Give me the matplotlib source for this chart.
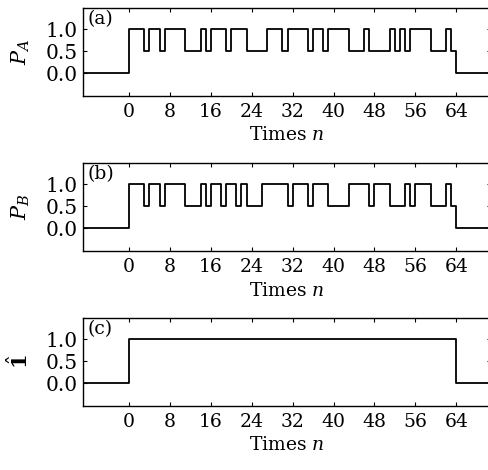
import numpy as np
import matplotlib
matplotlib.use("Agg")
import matplotlib.pyplot as plt

# values for n = 0..63
p_a = [1, 1, 1, .5, 1, 1, .5, 1, 1, 1, 1, .5, .5, .5, 1, .5,
       1, 1, 1, .5, 1, 1, 1, .5, .5, .5, .5, 1, 1, 1, .5, 1,
       1, 1, 1, .5, 1, 1, .5, 1, 1, 1, 1, .5, .5, .5, 1, .5,
       .5, .5, .5, 1, .5, 1, .5, 1, 1, 1, 1, .5, .5, .5, 1, .5]
p_b = [1, 1, 1, .5, 1, 1, .5, 1, 1, 1, 1, .5, .5, .5, 1, .5,
       1, 1, .5, 1, 1, .5, 1, .5, .5, .5, 1, 1, 1, 1, 1, .5,
       1, 1, 1, .5, 1, 1, 1, .5, .5, .5, .5, 1, 1, 1, 1, .5,
       1, 1, 1, .5, .5, .5, 1, .5, 1, 1, 1, .5, .5, .5, 1, .5]
p_c = [1] * 64
xticks = [0, 8, 16, 24, 32, 40, 48, 56, 64]
yticks = [0.0, 0.5, 1.0]
ylabels = [r"$P_A$", r"$P_B$", r"$\hat{\mathbf{1}}$"]
tags = ["(a)", "(b)", "(c)"]

plt.rcParams['font.family'] = ['DejaVu Serif']
plt.rcParams['mathtext.fontset'] = 'dejavuserif'

fig = plt.figure(figsize=(4.89, 4.70), dpi=100)
W, H = 489, 470
tops = [8, 163, 318]
ax_h = 88
left = 83
for k, vals in enumerate([p_a, p_b, p_c]):
    top = tops[k]
    ax = fig.add_axes([left / W, (H - top - ax_h) / H, (491 - left) / W, ax_h / H])
    n = np.arange(len(vals))
    x = np.concatenate([[-12], n, [64, 80]])
    y = np.concatenate([[0], vals, [0, 0]])
    ax.plot(x, y, drawstyle='steps-post', color='black', lw=1.3)
    ax.set_xlim(-9.0, 70.8)
    ax.set_ylim(-0.52, 1.48)
    ax.set_xticks(xticks)
    ax.set_yticks(yticks)
    ax.set_yticklabels([f"{v:.1f}" for v in yticks])
    ax.tick_params(direction='in', top=True, right=True, length=3)
    ax.tick_params(axis='x', labelsize=13.5, pad=5)
    ax.tick_params(axis='y', labelsize=14.5, pad=4)
    ax.set_xlabel(r"Times $n$", fontsize=13.5, labelpad=4)
    ax.set_ylabel(ylabels[k], fontsize=15)
    ax.yaxis.set_label_coords(-0.125, 0.5)
    ax.text(0.012, 0.98, tags[k], transform=ax.transAxes, fontsize=13.5,
            va='top', ha='left')
    for s in ax.spines.values():
        s.set_linewidth(1.0)

fig.savefig("out.png", dpi=100)
